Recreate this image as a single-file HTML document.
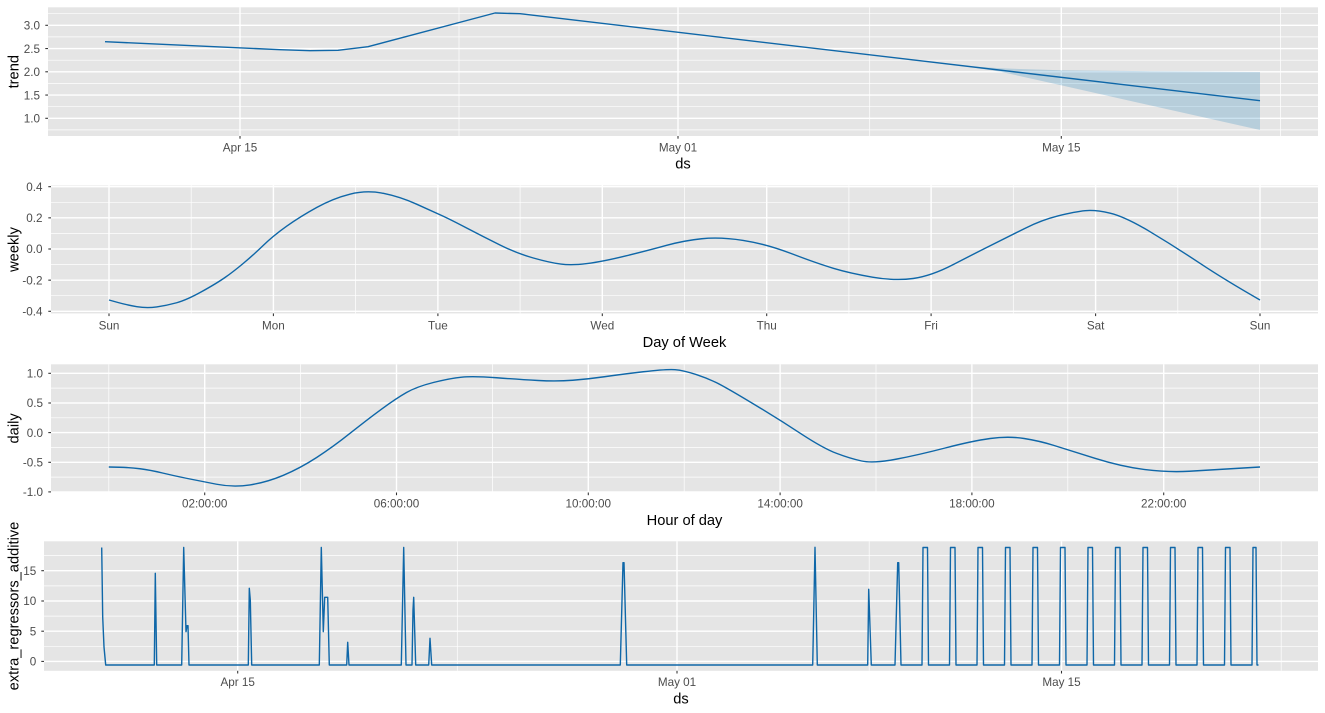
<!DOCTYPE html>
<html><head><meta charset="utf-8"><style>
html,body{margin:0;padding:0;background:#fff;}
svg{display:block;font-family:"Liberation Sans",Arial,sans-serif;}
.pb{fill:#E5E5E5;}
.mn{stroke:#fff;stroke-width:0.7;}
.mj{stroke:#fff;stroke-width:1.4;}
.tk{stroke:#333;stroke-width:1.07;}
.tl{fill:#4D4D4D;font-size:11.7px;}
.tt{fill:#000;font-size:14.67px;}
.ln{fill:none;stroke:#0F67A8;stroke-width:1.4;stroke-linejoin:round;}
</style></head><body>
<svg width="1325" height="713" viewBox="0 0 1325 713" xmlns="http://www.w3.org/2000/svg">
<rect width="1325" height="713" fill="#fff"/>

<!-- Panel 1: trend -->
<rect class="pb" x="48" y="7.3" width="1270" height="128.7"/>
<g class="mn">
<line x1="48" x2="1318" y1="13.7" y2="13.7"/><line x1="48" x2="1318" y1="36.9" y2="36.9"/><line x1="48" x2="1318" y1="60.2" y2="60.2"/><line x1="48" x2="1318" y1="83.4" y2="83.4"/><line x1="48" x2="1318" y1="106.7" y2="106.7"/><line x1="48" x2="1318" y1="129.9" y2="129.9"/>
<line x1="459" x2="459" y1="7.3" y2="136"/><line x1="869.7" x2="869.7" y1="7.3" y2="136"/><line x1="1280.4" x2="1280.4" y1="7.3" y2="136"/>
</g>
<g class="mj">
<line x1="48" x2="1318" y1="25.3" y2="25.3"/><line x1="48" x2="1318" y1="48.55" y2="48.55"/><line x1="48" x2="1318" y1="71.8" y2="71.8"/><line x1="48" x2="1318" y1="95.05" y2="95.05"/><line x1="48" x2="1318" y1="118.3" y2="118.3"/>
<line x1="240" x2="240" y1="7.3" y2="136"/><line x1="678" x2="678" y1="7.3" y2="136"/><line x1="1061.3" x2="1061.3" y1="7.3" y2="136"/>
</g>
<polygon points="960,65.5 1000,68.3 1061,70.3 1150,71.2 1260,72 1260,130 1061,85.3 1000,71.6" fill="#0072B2" fill-opacity="0.2"/>
<polyline class="ln" points="105,41.7 280,49.7 310,50.7 338,50.3 368,46.7 495,13 520,13.7 1260,100.7"/>
<g class="tk">
<line x1="45.3" x2="48" y1="25.3" y2="25.3"/><line x1="45.3" x2="48" y1="48.55" y2="48.55"/><line x1="45.3" x2="48" y1="71.8" y2="71.8"/><line x1="45.3" x2="48" y1="95.05" y2="95.05"/><line x1="45.3" x2="48" y1="118.3" y2="118.3"/>
<line x1="240" x2="240" y1="136" y2="138.7"/><line x1="678" x2="678" y1="136" y2="138.7"/><line x1="1061.3" x2="1061.3" y1="136" y2="138.7"/>
</g>
<g class="tl" text-anchor="end">
<text x="40" y="29.5">3.0</text><text x="40" y="52.8">2.5</text><text x="40" y="76">2.0</text><text x="40" y="99.3">1.5</text><text x="40" y="122.5">1.0</text>
</g>
<g class="tl" text-anchor="middle">
<text x="240" y="151.3">Apr 15</text><text x="678" y="151.3">May 01</text><text x="1061.3" y="151.3">May 15</text>
</g>
<text class="tt" x="683" y="168.7" text-anchor="middle">ds</text>
<text class="tt" transform="translate(18.5,71.7) rotate(-90)" text-anchor="middle">trend</text>

<!-- Panel 2: weekly -->
<rect class="pb" x="51" y="185.5" width="1267" height="127.9"/>
<g class="mn">
<line x1="51" x2="1318" y1="202.3" y2="202.3"/><line x1="51" x2="1318" y1="233.4" y2="233.4"/><line x1="51" x2="1318" y1="264.6" y2="264.6"/><line x1="51" x2="1318" y1="295.7" y2="295.7"/>
<line x1="191.2" x2="191.2" y1="185.5" y2="313.4"/><line x1="355.6" x2="355.6" y1="185.5" y2="313.4"/><line x1="520.1" x2="520.1" y1="185.5" y2="313.4"/><line x1="684.5" x2="684.5" y1="185.5" y2="313.4"/><line x1="848.9" x2="848.9" y1="185.5" y2="313.4"/><line x1="1013.3" x2="1013.3" y1="185.5" y2="313.4"/><line x1="1177.8" x2="1177.8" y1="185.5" y2="313.4"/>
</g>
<g class="mj">
<line x1="51" x2="1318" y1="186.7" y2="186.7"/><line x1="51" x2="1318" y1="217.85" y2="217.85"/><line x1="51" x2="1318" y1="249" y2="249"/><line x1="51" x2="1318" y1="280.15" y2="280.15"/><line x1="51" x2="1318" y1="311.3" y2="311.3"/>
<line x1="109" x2="109" y1="185.5" y2="313.4"/><line x1="273.4" x2="273.4" y1="185.5" y2="313.4"/><line x1="437.9" x2="437.9" y1="185.5" y2="313.4"/><line x1="602.3" x2="602.3" y1="185.5" y2="313.4"/><line x1="766.7" x2="766.7" y1="185.5" y2="313.4"/><line x1="931.1" x2="931.1" y1="185.5" y2="313.4"/><line x1="1095.6" x2="1095.6" y1="185.5" y2="313.4"/><line x1="1260" x2="1260" y1="185.5" y2="313.4"/>
</g>
<path class="ln" d="M109,300 L118,302.5 Q127,305 136.85,306.65 Q146.7,308.3 156.7,306.9 Q166.7,305.5 176.7,302.75 Q186.7,300 201.7,291.65 Q216.7,283.3 225,277.5 Q233.3,271.7 243.3,263.35 Q253.3,255 263.3,245.35 Q273.3,235.7 286.65,226.2 Q300,216.7 316.65,207.5 Q333.3,198.3 350,194.15 Q366.7,190 383.35,193.35 Q400,196.7 416.65,204.2 Q433.3,211.7 441.65,215.5 Q450,219.3 466.65,228 Q483.3,236.7 500,245 Q516.7,253.3 533.35,258 Q550,262.7 560.85,264.1 Q571.7,265.5 587,263.6 Q602.3,261.7 626.15,255.85 Q650,250 666.65,245.35 Q683.3,240.7 701.65,238.75 Q720,236.8 743.15,240.4 Q766.3,244 791.5,253.65 Q816.7,263.3 833.35,268.3 Q850,273.3 872.5,277.15 Q895,281 913.15,278.5 Q931.3,276 953.15,264.65 Q975,253.3 991.65,245 Q1008.3,236.7 1025,228.35 Q1041.7,220 1058.35,215.85 Q1075,211.7 1085.15,210.7 Q1095.3,209.7 1110.15,213.2 Q1125,216.7 1150,231.7 Q1175,246.7 1200,263.35 Q1225,280 1260,300"/>
<g class="tk">
<line x1="48.3" x2="51" y1="186.7" y2="186.7"/><line x1="48.3" x2="51" y1="217.85" y2="217.85"/><line x1="48.3" x2="51" y1="249" y2="249"/><line x1="48.3" x2="51" y1="280.15" y2="280.15"/><line x1="48.3" x2="51" y1="311.3" y2="311.3"/>
<line x1="109" x2="109" y1="313.4" y2="316.1"/><line x1="273.4" x2="273.4" y1="313.4" y2="316.1"/><line x1="437.9" x2="437.9" y1="313.4" y2="316.1"/><line x1="602.3" x2="602.3" y1="313.4" y2="316.1"/><line x1="766.7" x2="766.7" y1="313.4" y2="316.1"/><line x1="931.1" x2="931.1" y1="313.4" y2="316.1"/><line x1="1095.6" x2="1095.6" y1="313.4" y2="316.1"/><line x1="1260" x2="1260" y1="313.4" y2="316.1"/>
</g>
<g class="tl" text-anchor="end">
<text x="42.5" y="190.9">0.4</text><text x="42.5" y="222">0.2</text><text x="42.5" y="253.2">0.0</text><text x="42.5" y="284.3">-0.2</text><text x="42.5" y="315.5">-0.4</text>
</g>
<g class="tl" text-anchor="middle">
<text x="109" y="329.3">Sun</text><text x="273.4" y="329.3">Mon</text><text x="437.9" y="329.3">Tue</text><text x="602.3" y="329.3">Wed</text><text x="766.7" y="329.3">Thu</text><text x="931.1" y="329.3">Fri</text><text x="1095.6" y="329.3">Sat</text><text x="1260" y="329.3">Sun</text>
</g>
<text class="tt" x="684.5" y="347" text-anchor="middle">Day of Week</text>
<text class="tt" transform="translate(18.5,249.5) rotate(-90)" text-anchor="middle">weekly</text>

<!-- Panel 3: daily -->
<rect class="pb" x="51" y="364.3" width="1267" height="128.2"/>
<g class="mn">
<line x1="51" x2="1318" y1="388.1" y2="388.1"/><line x1="51" x2="1318" y1="417.8" y2="417.8"/><line x1="51" x2="1318" y1="447.4" y2="447.4"/><line x1="51" x2="1318" y1="477.1" y2="477.1"/>
<line x1="108.8" x2="108.8" y1="364.3" y2="492.5"/><line x1="300.6" x2="300.6" y1="364.3" y2="492.5"/><line x1="492.4" x2="492.4" y1="364.3" y2="492.5"/><line x1="684.2" x2="684.2" y1="364.3" y2="492.5"/><line x1="876" x2="876" y1="364.3" y2="492.5"/><line x1="1067.8" x2="1067.8" y1="364.3" y2="492.5"/><line x1="1259.6" x2="1259.6" y1="364.3" y2="492.5"/>
</g>
<g class="mj">
<line x1="51" x2="1318" y1="373.3" y2="373.3"/><line x1="51" x2="1318" y1="403" y2="403"/><line x1="51" x2="1318" y1="432.6" y2="432.6"/><line x1="51" x2="1318" y1="462.3" y2="462.3"/><line x1="51" x2="1318" y1="491.9" y2="491.9"/>
<line x1="204.7" x2="204.7" y1="364.3" y2="492.5"/><line x1="396.5" x2="396.5" y1="364.3" y2="492.5"/><line x1="588.3" x2="588.3" y1="364.3" y2="492.5"/><line x1="780.1" x2="780.1" y1="364.3" y2="492.5"/><line x1="971.9" x2="971.9" y1="364.3" y2="492.5"/><line x1="1163.7" x2="1163.7" y1="364.3" y2="492.5"/>
</g>
<path class="ln" d="M108.8,467 L119.4,467.25 Q130,467.5 140,468.75 Q150,470 162.5,473 Q175,476 187.5,478.5 Q200,481 216.65,484.25 Q233.3,487.5 250,484.9 Q266.7,482.3 283.35,475.3 Q300,468.3 316.65,457.5 Q333.3,446.7 350,433.35 Q366.7,420 381.5,409.15 Q396.3,398.3 406.5,392.5 Q416.7,386.7 433.35,382.5 Q450,378.3 461.65,377.15 Q473.3,376 496.65,377.75 Q520,379.5 538.35,380.5 Q556.7,381.5 572.7,380.25 Q588.7,379 604.35,376.75 Q620,374.5 643.35,371.75 Q666.7,369 675,369.65 Q683.3,370.3 696.65,374.65 Q710,379 721.65,385.35 Q733.3,391.7 756.65,405.85 Q780,420 801.65,434.15 Q823.3,448.3 836.65,453.4 Q850,458.5 861.65,461 Q873.3,463.5 895.8,459.25 Q918.3,455 945.15,448 Q972,441 990.15,438.5 Q1008.3,436 1024.15,438.5 Q1040,441 1054.15,445.5 Q1068.3,450 1095,458.35 Q1121.7,466.7 1145,469.6 Q1168.3,472.5 1189.15,471.25 Q1210,470 1260,467"/>
<g class="tk">
<line x1="48.3" x2="51" y1="373.3" y2="373.3"/><line x1="48.3" x2="51" y1="403" y2="403"/><line x1="48.3" x2="51" y1="432.6" y2="432.6"/><line x1="48.3" x2="51" y1="462.3" y2="462.3"/><line x1="48.3" x2="51" y1="491.9" y2="491.9"/>
<line x1="204.7" x2="204.7" y1="492.5" y2="495.2"/><line x1="396.5" x2="396.5" y1="492.5" y2="495.2"/><line x1="588.3" x2="588.3" y1="492.5" y2="495.2"/><line x1="780.1" x2="780.1" y1="492.5" y2="495.2"/><line x1="971.9" x2="971.9" y1="492.5" y2="495.2"/><line x1="1163.7" x2="1163.7" y1="492.5" y2="495.2"/>
</g>
<g class="tl" text-anchor="end">
<text x="43" y="377.5">1.0</text><text x="43" y="407.2">0.5</text><text x="43" y="436.8">0.0</text><text x="43" y="466.5">-0.5</text><text x="43" y="496.1">-1.0</text>
</g>
<g class="tl" text-anchor="middle">
<text x="204.7" y="507.7">02:00:00</text><text x="396.5" y="507.7">06:00:00</text><text x="588.3" y="507.7">10:00:00</text><text x="780.1" y="507.7">14:00:00</text><text x="971.9" y="507.7">18:00:00</text><text x="1163.7" y="507.7">22:00:00</text>
</g>
<text class="tt" x="684.5" y="525.2" text-anchor="middle">Hour of day</text>
<text class="tt" transform="translate(18.5,428.4) rotate(-90)" text-anchor="middle">daily</text>

<!-- Panel 4: extra regressors -->
<rect class="pb" x="44" y="541.3" width="1274" height="129.5"/>
<g class="mn">
<line x1="44" x2="1318" y1="555.6" y2="555.6"/><line x1="44" x2="1318" y1="585.9" y2="585.9"/><line x1="44" x2="1318" y1="616.1" y2="616.1"/><line x1="44" x2="1318" y1="646.3" y2="646.3"/>
<line x1="457.3" x2="457.3" y1="541.3" y2="670.8"/><line x1="869.2" x2="869.2" y1="541.3" y2="670.8"/><line x1="1281.2" x2="1281.2" y1="541.3" y2="670.8"/>
</g>
<g class="mj">
<line x1="44" x2="1318" y1="570.7" y2="570.7"/><line x1="44" x2="1318" y1="601" y2="601"/><line x1="44" x2="1318" y1="631.2" y2="631.2"/><line x1="44" x2="1318" y1="661.4" y2="661.4"/>
<line x1="237.7" x2="237.7" y1="541.3" y2="670.8"/><line x1="677" x2="677" y1="541.3" y2="670.8"/><line x1="1061.5" x2="1061.5" y1="541.3" y2="670.8"/>
</g>
<polyline class="ln" points="101.7,547.5 102.7,617 104,647 105.7,665 154.3,665 155.3,573.3 156.7,665 181.7,665 183.7,547.5 186,631.7 187,625.7 188,625.7 189,665 248.3,665 249.3,588.3 250.3,600 251.7,665 319.3,665 321.3,547.5 323.3,631.7 324.7,597.3 327.7,597.3 329.3,665 346.7,665 347.7,642.3 349,665 401.3,665 403.7,547.5 406,665 412,665 413,610 413.7,597.3 415.7,665 428.7,665 430,638.3 431.7,665 620.3,665 623,562.7 624,562.7 626.7,665 812.7,665 815,547.3 817.3,665 867.7,665 868.7,589.3 871.3,665 895,665 897.7,562.7 898.7,562.7 901,665 922,665 923,547.5 927.5,547.5 928.5,665 949.5,665 950.5,547.5 955,547.5 956,665 977,665 978,547.5 982.5,547.5 983.5,665 1004.5,665 1005.5,547.5 1010,547.5 1011,665 1032,665 1033,547.5 1037.5,547.5 1038.5,665 1059.5,665 1060.5,547.5 1065,547.5 1066,665 1087,665 1088,547.5 1092.5,547.5 1093.5,665 1114.5,665 1115.5,547.5 1120,547.5 1121,665 1142,665 1143,547.5 1147.5,547.5 1148.5,665 1169.5,665 1170.5,547.5 1175,547.5 1176,665 1197,665 1198,547.5 1202.5,547.5 1203.5,665 1224.5,665 1225.5,547.5 1230,547.5 1231,665 1252,665 1253,547.5 1256,547.5 1257,665 1258.5,665"/>
<g class="tk">
<line x1="41.3" x2="44" y1="570.7" y2="570.7"/><line x1="41.3" x2="44" y1="601" y2="601"/><line x1="41.3" x2="44" y1="631.2" y2="631.2"/><line x1="41.3" x2="44" y1="661.4" y2="661.4"/>
<line x1="237.7" x2="237.7" y1="670.8" y2="673.5"/><line x1="677" x2="677" y1="670.8" y2="673.5"/><line x1="1061.5" x2="1061.5" y1="670.8" y2="673.5"/>
</g>
<g class="tl" text-anchor="end">
<text x="36.3" y="574.9">15</text><text x="36.3" y="605.2">10</text><text x="36.3" y="635.4">5</text><text x="36.3" y="665.6">0</text>
</g>
<g class="tl" text-anchor="middle">
<text x="237.7" y="686">Apr 15</text><text x="677" y="686">May 01</text><text x="1061.5" y="686">May 15</text>
</g>
<text class="tt" x="681" y="703.5" text-anchor="middle">ds</text>
<text class="tt" transform="translate(18.5,606) rotate(-90)" text-anchor="middle">extra_regressors_additive</text>
</svg>
</body></html>
